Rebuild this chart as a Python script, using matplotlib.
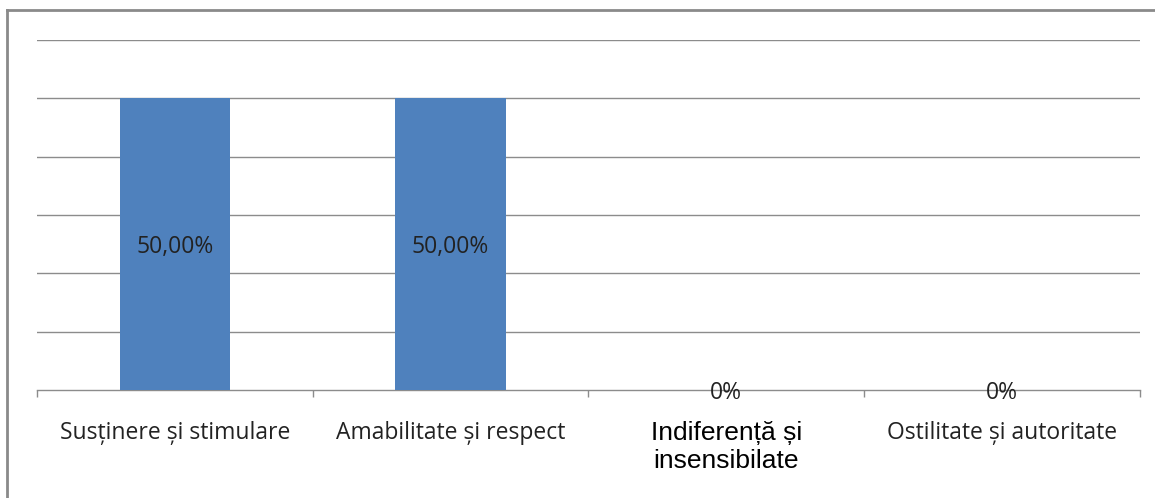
import matplotlib.pyplot as plt
from matplotlib.lines import Line2D

categories = ['Susținere și stimulare', 'Amabilitate și respect',
              'Indiferență și\ninsensibilate', 'Ostilitate și autoritate']
values = [50.0, 50.0, 0.0, 0.0]
value_labels = ['50,00%', '50,00%', '0%', '0%']

bar_color = '#4F81BD'
grid_color = '#8C8C8C'

fig = plt.figure(figsize=(11.55, 4.98), dpi=100)
ax = fig.add_axes([0.032, 0.2169, 0.955, 0.703])

x = list(range(len(categories)))
bars = ax.bar(x, values, width=0.4, color=bar_color, zorder=3)

ax.set_xlim(-0.5, len(categories) - 0.5)
ax.set_ylim(0, 60)
ax.set_yticks([10, 20, 30, 40, 50, 60])
ax.yaxis.grid(True, color=grid_color, linewidth=1)
ax.tick_params(axis='y', left=False, labelleft=False)

for s in ['top', 'right', 'left']:
    ax.spines[s].set_visible(False)
ax.spines['bottom'].set_color(grid_color)
ax.spines['bottom'].set_linewidth(1)

# category boundaries get the small tick marks
ax.set_xticks([i - 0.5 for i in range(len(categories) + 1)], minor=True)
ax.tick_params(axis='x', which='minor', length=5, color=grid_color, width=1, direction='out')
ax.set_xticks(x)
ax.tick_params(axis='x', which='major', length=0, pad=22)
ax.set_xticklabels(categories, va='top')
for i, lab in enumerate(ax.get_xticklabels()):
    if i == 2:
        lab.set_fontfamily('Liberation Sans')
        lab.set_fontsize(19)
        lab.set_color('black')
        lab.set_linespacing(1.25)
    else:
        lab.set_fontfamily('Open Sans')
        lab.set_fontsize(16.5)
        lab.set_color('#222222')

for xi, v, t in zip(x, values, value_labels):
    ax.text(xi, v / 2, t, ha='center', va='center_baseline', fontsize=16.5,
            family='Open Sans', color='#222222', zorder=4)

# frame on the top and left edges of the figure
fig.add_artist(Line2D([0.006, 1.0], [0.98, 0.98], transform=fig.transFigure,
                      color='#8A8A8A', linewidth=2))
fig.add_artist(Line2D([0.006, 0.006], [0.0, 0.98], transform=fig.transFigure,
                      color='#8A8A8A', linewidth=2))

fig.savefig('out.png', dpi=100, facecolor='white')
